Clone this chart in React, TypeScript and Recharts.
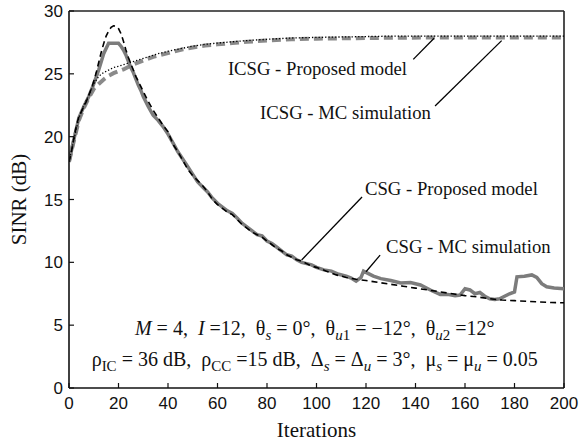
import React from 'react';
import { LineChart, Line, XAxis, YAxis, ReferenceLine, ReferenceDot } from 'recharts';

// ---- data ----
const csgModelIter = [0, 1, 2, 3, 4, 5, 6, 7, 8, 9, 10, 11, 12, 13, 14, 15, 16, 17, 18, 19, 20, 21, 22, 23, 24, 25, 26, 27, 28, 29, 30, 32, 34, 36, 38, 40, 42, 44, 46, 48, 50, 52, 54, 56, 58, 60, 62, 64, 66, 68, 70, 72, 74, 76, 78, 80, 82, 84, 86, 88, 90, 92, 94, 96, 98, 100, 104, 108, 112, 116, 120, 125, 130, 135, 140, 145, 150, 155, 160, 165, 170, 175, 180, 185, 190, 195, 200];
const csgModelSinr = [18.0, 18.8, 19.9, 20.9, 21.6, 22.0, 22.4, 22.8, 23.3, 23.8, 24.4, 25.1, 25.9, 26.7, 27.4, 28.0, 28.4, 28.7, 28.82, 28.8, 28.6, 28.2, 27.6, 26.9, 26.3, 25.8, 25.3, 24.8, 24.4, 24.0, 23.6, 22.8, 22.1, 21.5, 20.9, 20.4, 19.4, 18.8, 18.1, 17.4, 16.9, 16.5, 16.1, 15.6, 15.0, 14.6, 14.3, 14.0, 13.8, 13.4, 13.0, 12.7, 12.4, 12.2, 12.0, 11.7, 11.4, 11.1, 10.9, 10.6, 10.4, 10.2, 10.1, 9.9, 9.7, 9.6, 9.3, 9.0, 8.8, 8.65, 8.55, 8.4, 8.25, 8.1, 7.95, 7.8, 7.65, 7.5, 7.35, 7.25, 7.1, 7.0, 6.95, 6.9, 6.85, 6.8, 6.78];

const csgSimIter = [0, 2, 4, 6, 8, 10, 12, 14, 16, 20, 21, 22, 23, 24, 25, 26, 27, 28, 29, 30, 32, 34, 36, 38, 40, 42, 44, 46, 48, 50, 52, 54, 56, 58, 60, 62, 64, 66, 68, 70, 72, 74, 76, 78, 80, 82, 84, 86, 88, 90, 92, 94, 96, 98, 100, 103, 106, 109, 112, 114, 116, 118, 119, 121, 123, 126, 130, 134, 138, 142, 146, 150, 153, 156, 158, 160, 162, 164, 166, 168, 170, 172, 174, 176, 178, 180, 181, 184, 187, 189, 191, 193, 196, 200];
const csgSimSinr = [18.0, 19.8, 21.5, 22.4, 23.2, 24.2, 25.3, 26.6, 27.43, 27.43, 27.2, 26.9, 26.5, 26.0, 25.5, 25.1, 24.6, 24.1, 23.7, 23.2, 22.4, 21.7, 21.3, 20.8, 20.2, 19.5, 18.8, 18.2, 17.6, 17.0, 16.4, 16.0, 15.6, 15.1, 14.7, 14.4, 14.1, 13.9, 13.5, 13.1, 12.8, 12.5, 12.2, 12.1, 11.7, 11.5, 11.2, 10.9, 10.6, 10.5, 10.2, 10.0, 9.9, 9.8, 9.6, 9.4, 9.3, 9.05, 8.9, 8.75, 8.5, 8.8, 9.3, 9.1, 8.9, 8.7, 8.55, 8.35, 8.4, 8.2, 7.8, 7.45, 7.45, 7.35, 7.4, 7.9, 7.8, 7.5, 7.6, 7.3, 7.1, 7.05, 7.1, 7.3, 7.5, 7.65, 8.85, 8.9, 9.0, 8.8, 8.3, 8.05, 7.95, 7.9];

const icsgModelIter = [0, 2, 4, 6, 8, 10, 12, 14, 16, 18, 20, 24, 28, 32, 36, 40, 45, 50, 55, 60, 66, 72, 80, 90, 100, 115, 130, 150, 200];
const icsgModelSinr = [18.0, 19.8, 21.5, 22.5, 23.3, 24.2, 24.8, 25.1, 25.3, 25.5, 25.6, 25.85, 26.1, 26.35, 26.6, 26.8, 27.0, 27.2, 27.35, 27.45, 27.55, 27.65, 27.75, 27.85, 27.9, 27.95, 28.0, 28.0, 28.0];

const icsgSimIter = [0, 2, 4, 6, 8, 10, 12, 14, 16, 18, 20, 22, 26, 30, 34, 38, 42, 46, 50, 55, 60, 66, 72, 80, 90, 100, 120, 150, 200];
const icsgSimSinr = [18.0, 19.7, 21.3, 22.3, 23.1, 23.8, 24.2, 24.55, 24.85, 25.05, 25.2, 25.35, 25.75, 26.05, 26.35, 26.55, 26.75, 26.95, 27.1, 27.25, 27.35, 27.45, 27.55, 27.65, 27.75, 27.8, 27.85, 27.9, 27.9];

const xTicks = [0, 20, 40, 60, 80, 100, 120, 140, 160, 180, 200];
const yTicks = [0, 5, 10, 15, 20, 25, 30];

const seriesLabels = ['ICSG - Proposed model', 'ICSG - MC simulation', 'CSG - Proposed model', 'CSG - MC simulation'];
const labelIter = [64.2, 77.2, 119.6, 128.1];
const labelSinr = [24.9, 21.37, 15.36, 10.74];
const leaderFrom = [[139.1, 26.15], [147.9, 22.44], [118.4, 15.2], [125.7, 10.58]];
const leaderTo = [[147.5, 27.83], [174.8, 27.64], [94.0, 10.19], [120.0, 9.25]];

type Seg = [string, string];
const paramLine1: Seg[] = [
  ['M', 'i'], [' = 4,  ', ''], ['I', 'i'], [' =12,  θ', ''], ['s', 'subi'], [' = 0°,  θ', ''],
  ['u', 'subi'], ['1', 'sub'], [' = −12°,  θ', ''], ['u', 'subi'], ['2', 'sub'], [' =12°', ''],
];
const paramLine2: Seg[] = [
  ['ρ', ''], ['IC', 'sub'], [' = 36 dB,  ρ', ''], ['CC', 'sub'], [' =15 dB,  Δ', ''], ['s', 'subi'],
  [' = Δ', ''], ['u', 'subi'], [' = 3°,  μ', ''], ['s', 'subi'], [' = μ', ''], ['u', 'subi'], [' = 0.05', ''],
];
const paramIter = [99.3, 99.3];
const paramSinr = [4.22, 1.75];

const zip = (xs: number[], ys: number[]) => xs.map((x, i) => ({ it: x, sinr: ys[i] }));
const csgModel = zip(csgModelIter, csgModelSinr);
const csgSim = zip(csgSimIter, csgSimSinr);
const icsgModel = zip(icsgModelIter, icsgModelSinr);
const icsgSim = zip(icsgSimIter, icsgSimSinr);

const SERIF = '"Liberation Serif", "Times New Roman", serif';
const SANS = '"Liberation Sans", Arial, sans-serif';

function renderSegs(segs: Seg[]) {
  let inSub = false;
  return segs.map(([t, s], i) => {
    const sub = s.startsWith('sub');
    const italic = s === 'i' || s === 'subi';
    let dy = 0;
    if (sub && !inSub) dy = 5;
    if (!sub && inSub) dy = -5;
    inSub = sub;
    return (
      <tspan key={i} dy={dy} fontStyle={italic ? 'italic' : 'normal'} fontSize={sub ? 15 : 20}>
        {t}
      </tspan>
    );
  });
}

export default function App() {
  return (
    <div style={{ position: 'absolute', left: 0, top: 0 }}>
      <LineChart width={579} height={444} margin={{ top: 11, right: 15, bottom: 0, left: 9 }}>
        <XAxis
          dataKey="it"
          type="number"
          domain={[0, 200]}
          ticks={xTicks}
          allowDataOverflow
          height={56}
          tickSize={-5}
          tickMargin={14}
          axisLine={{ stroke: '#111', strokeWidth: 1.6 }}
          tickLine={{ stroke: '#111', strokeWidth: 1.2 }}
          tick={{ fill: '#111', fontSize: 17, fontFamily: SANS }}
          label={(p: any) => (
            <text
              x={p.viewBox.x + p.viewBox.width / 2}
              y={p.viewBox.y + 49}
              textAnchor="middle"
              fontFamily={SERIF}
              fontSize={21}
              fill="#111"
            >
              Iterations
            </text>
          )}
        />
        <YAxis
          type="number"
          domain={[0, 30]}
          ticks={yTicks}
          allowDataOverflow
          width={60}
          tickSize={-5}
          tickMargin={11}
          axisLine={{ stroke: '#111', strokeWidth: 1.6 }}
          tickLine={{ stroke: '#111', strokeWidth: 1.2 }}
          tick={{ fill: '#111', fontSize: 17, fontFamily: SANS }}
          label={(p: any) => {
            const cx = p.viewBox.x + 10;
            const cy = p.viewBox.y + p.viewBox.height / 2;
            return (
              <text
                x={cx}
                y={cy}
                transform={`rotate(-90, ${cx}, ${cy})`}
                textAnchor="middle"
                dominantBaseline="central"
                fontFamily={SERIF}
                fontSize={21}
                fill="#111"
              >
                SINR (dB)
              </text>
            );
          }}
        />
        <ReferenceLine y={30} stroke="#222" strokeWidth={1.6} />
        <ReferenceLine x={200} stroke="#222" strokeWidth={1.6} />

        <Line data={icsgSim} dataKey="sinr" type="linear" stroke="#8a8a8a" strokeWidth={4} strokeDasharray="9 5" dot={false} isAnimationActive={false} />
        <Line data={csgSim} dataKey="sinr" type="linear" stroke="#7c7c7c" strokeWidth={3.5} dot={false} isAnimationActive={false} />
        <Line data={csgModel} dataKey="sinr" type="linear" stroke="#000" strokeWidth={1.6} strokeDasharray="6 4" dot={false} isAnimationActive={false} />
        <Line data={icsgModel} dataKey="sinr" type="linear" stroke="#000" strokeWidth={1.3} strokeDasharray="1.3 2" dot={false} isAnimationActive={false} />

        {leaderFrom.map((f, i) => (
          <ReferenceLine
            key={'ld' + i}
            segment={[{ x: f[0], y: f[1] }, { x: leaderTo[i][0], y: leaderTo[i][1] }]}
            stroke="#000"
            strokeWidth={1.3}
          />
        ))}

        {seriesLabels.map((t, i) => (
          <ReferenceDot
            key={'lb' + i}
            x={labelIter[i]}
            y={labelSinr[i]}
            r={0.01}
            fill="none"
            stroke="none"
            label={(p: any) => (
              <text x={p.viewBox.x} y={p.viewBox.y} textAnchor="start" fontFamily={SERIF} fontSize={18.7} fill="#111">
                {t}
              </text>
            )}
          />
        ))}

        {[paramLine1, paramLine2].map((segs, i) => (
          <ReferenceDot
            key={'pm' + i}
            x={paramIter[i]}
            y={paramSinr[i]}
            r={0.01}
            fill="none"
            stroke="none"
            label={(p: any) => (
              <text
                x={p.viewBox.x}
                y={p.viewBox.y}
                textAnchor="middle"
                fontFamily={SERIF}
                fontSize={20}
                fill="#111"
                style={{ whiteSpace: 'pre' }}
              >
                {renderSegs(segs)}
              </text>
            )}
          />
        ))}
      </LineChart>
    </div>
  );
}
